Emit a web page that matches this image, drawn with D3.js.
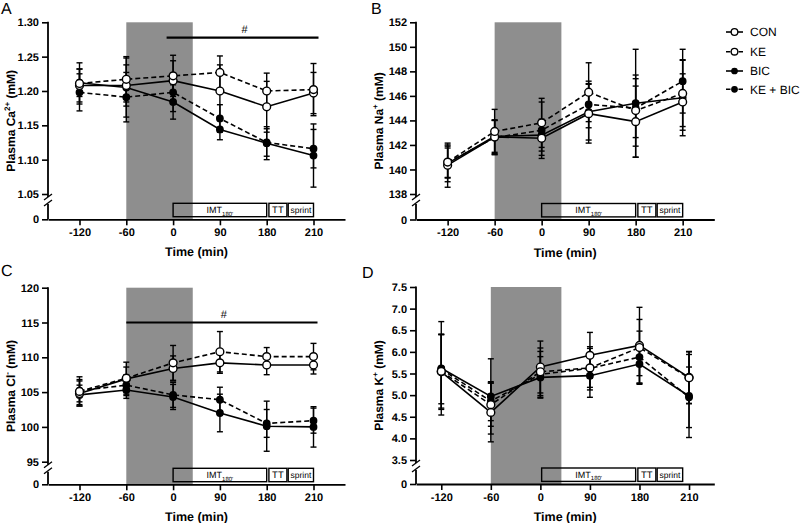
<!DOCTYPE html>
<html><head><meta charset="utf-8">
<script src="https://cdn.jsdelivr.net/npm/d3@7"></script>
<style>
html,body{margin:0;padding:0;background:#fff;}
svg{display:block;font-family:"Liberation Sans",Arial,sans-serif;}
text{text-rendering:geometricPrecision;}
</style></head>
<body>
<svg id="chart" width="800" height="523"></svg>
<script>
// ---------- data ----------
const timeLabels = ["-120","-60","0","90","180","210"];
const seriesNames = ["CON","KE","BIC","KE + BIC"];

const caCON   = [1.208,1.208,1.215,1.200,1.177,1.197];
const caCONsd = [0.024,0.030,0.029,0.038,0.037,0.030];
const caKE    = [1.211,1.217,1.222,1.227,1.200,1.202];
const caKEsd  = [0.030,0.033,0.030,0.024,0.026,0.038];
const caBIC   = [1.212,1.205,1.184,1.144,1.124,1.106];
const caBICsd = [0.020,0.043,0.025,0.015,0.024,0.046];
const caKEBIC   = [1.198,1.191,1.198,1.160,1.125,1.116];
const caKEBICsd = [0.027,0.036,0.028,0.020,0.020,0.028];

const naCON   = [140.35,142.65,142.55,144.55,143.9,145.5];
const naCONsd = [1.8,1.4,1.4,2.4,2.9,2.3];
const naKE    = [140.6,143.1,143.8,146.3,144.8,146.2];
const naKEsd  = [1.3,1.8,2.0,2.4,2.9,2.7];
const naBIC   = [140.5,142.7,142.8,144.7,145.4,145.85];
const naBICsd = [1.5,1.3,1.3,2.3,4.4,3.1];
const naKEBIC   = [140.55,142.6,143.2,145.3,145.0,147.2];
const naKEBICsd = [1.2,1.4,2.3,1.9,2.4,2.6];

const clCON   = [104.8,106.9,108.4,109.2,108.9,108.9];
const clCONsd = [1.8,1.7,1.8,1.5,1.4,1.3];
const clKE    = [105.1,107.0,109.2,110.8,110.1,110.1];
const clKEsd  = [2.1,2.3,2.5,2.9,1.3,1.9];
const clBIC   = [104.6,105.3,104.3,102.0,100.1,100.0];
const clBICsd = [1.4,1.2,1.8,2.7,3.6,2.9];
const clKEBIC   = [105.2,106.0,104.6,103.9,100.5,100.9];
const clKEBICsd = [1.6,1.5,1.8,1.8,2.0,1.8];

const kCON   = [5.54,4.60,5.65,5.92,6.15,5.41];
const kCONsd = [0.87,0.68,0.60,0.53,0.88,0.60];
const kKE    = [5.55,4.78,5.54,5.63,6.10,5.40];
const kKEsd  = [0.85,0.50,0.55,0.45,0.65,0.60];
const kBIC   = [5.62,4.97,5.41,5.45,5.72,4.98];
const kBICsd = [1.08,0.87,0.48,0.50,0.47,0.96];
const kKEBIC   = [5.60,4.86,5.48,5.62,5.88,4.95];
const kKEBICsd = [0.80,0.45,0.53,0.50,0.60,0.70];

const caTicks = [1.05,1.10,1.15,1.20,1.25,1.30];
const naTicks = [138,140,142,144,146,148,150,152];
const clTicks = [95,100,105,110,115,120];
const kTicks  = [3.5,4.0,4.5,5.0,5.5,6.0,6.5,7.0,7.5];

// ---------- styles ----------
const styles = [
  {fill:"#fff", dash:null, r:3.9},
  {fill:"#fff", dash:"5,3", r:3.9},
  {fill:"#000", dash:null, r:3.2},
  {fill:"#000", dash:"5,3", r:3.2}
];
const GRAY = "#8e8e8e";
const FONT = "Liberation Sans, Arial, sans-serif";

const panels = [
  {letter:"A", lx:1, ly:14, x0:48, x1:345, pad:0.673, yTop:22.3, yLow:194, yZero:219.3,
   ticks:caTicks, fmt:d3.format(".2f"), ion:"Ca", sup:"2+",
   series:[[caCON,caCONsd],[caKE,caKEsd],[caBIC,caBICsd],[caKEBIC,caKEBICsd]],
   hash:{v:1.2776, from:"0", fo:-6.5, to:"210", to2:5}},
  {letter:"B", lx:371, ly:14, x0:416, x1:714.3, pad:0.673, yTop:22.3, yLow:194, yZero:219.5,
   ticks:naTicks, fmt:d3.format("d"), ion:"Na", sup:"+",
   series:[[naCON,naCONsd],[naKE,naKEsd],[naBIC,naBICsd],[naKEBIC,naKEBICsd]]},
  {letter:"C", lx:1, ly:276, x0:48, x1:345, pad:0.673, yTop:287.7, yLow:461.7, yZero:484.3,
   ticks:clTicks, fmt:d3.format("d"), ion:"Cl", sup:"-",
   series:[[clCON,clCONsd],[clKE,clKEsd],[clBIC,clBICsd],[clKEBIC,clKEBICsd]],
   hash:{v:115, from:"-60", fo:0, to:"210", to2:4}},
  {letter:"D", lx:362, ly:278, x0:416, x1:714.3, pad:0.51, yTop:287, yLow:460, yZero:484,
   ticks:kTicks, fmt:d3.format(".1f"), ion:"K", sup:"+",
   series:[[kCON,kCONsd],[kKE,kKEsd],[kBIC,kBICsd],[kKEBIC,kKEBICsd]]}
];

const svg = d3.select("#chart");

panels.forEach(p => {
  const g = svg.append("g");
  const x = d3.scalePoint().domain(timeLabels).range([p.x0, p.x1]).padding(p.pad);
  const xRef = d3.scalePoint().domain(timeLabels).range([p.x0, p.x1]).padding(0.673); // overlay positions
  const y = d3.scaleLinear().domain([p.ticks[0], p.ticks[p.ticks.length-1]]).range([p.yLow, p.yTop]);
  const y0 = d3.scaleLinear().domain([0,1]).range([p.yZero, p.yZero-10]);

  // gray intervention band
  const gx0 = x("-60");
  const gx1 = xRef("0") + 0.42 * xRef.step();
  g.append("rect").attr("x", gx0).attr("y", p.yTop).attr("width", gx1-gx0).attr("height", p.yZero-p.yTop)
    .attr("fill", GRAY);

  // protocol boxes
  const bTop = p.yZero - 16, bH = 13.4;
  const xa = xRef("0"), xb = xRef("180"), xc = xRef("210");
  const boxes = [
    {x:xa, w:xb-xa, label:"IMT", sub:"180'", fs:9},
    {x:xb+2.2, w:18, label:"TT", fs:9.5},
    {x:xb+21.5, w:xc-(xb+21.5), label:"sprint", fs:8.5}
  ];
  boxes.forEach(b => {
    g.append("rect").attr("x", b.x).attr("y", bTop).attr("width", b.w).attr("height", bH)
      .attr("fill","none").attr("stroke","#000").attr("stroke-width",1.4);
    const t = g.append("text").attr("x", b.x + b.w/2).attr("y", bTop + bH - 3.6)
      .attr("text-anchor","middle").attr("font-size", b.fs).attr("fill","#000").text(b.label);
    if (b.sub) t.append("tspan").attr("font-size",6).attr("dy",2.5).text(b.sub);
  });

  // hash bar
  if (p.hash) {
    const hy = y(p.hash.v);
    const hx0 = x(p.hash.from) + p.hash.fo, hx1 = x(p.hash.to) + p.hash.to2;
    g.append("line").attr("x1",hx0).attr("x2",hx1).attr("y1",hy).attr("y2",hy)
      .attr("stroke","#000").attr("stroke-width",2.2);
    g.append("text").attr("x",(hx0+hx1)/2+2).attr("y",hy-5).attr("text-anchor","middle")
      .attr("font-size",11).text("#");
  }

  // axes
  const xAxis = d3.axisBottom(x).tickSize(6).tickSizeOuter(0).tickPadding(3);
  const xg = g.append("g").attr("transform",`translate(0,${p.yZero})`).call(xAxis);
  xg.select(".domain").attr("stroke-width",1.8);
  xg.selectAll(".tick line").attr("stroke-width",1.6);
  xg.selectAll(".tick text").attr("font-size",11).attr("font-weight","bold").attr("font-family",FONT);

  const yAxis = d3.axisLeft(y).tickValues(p.ticks).tickFormat(p.fmt).tickSize(6).tickSizeOuter(0).tickPadding(3);
  const yg = g.append("g").attr("transform",`translate(${p.x0},0)`).call(yAxis);
  yg.select(".domain").remove();
  const y0Axis = d3.axisLeft(y0).tickValues([0]).tickFormat(d3.format("d")).tickSize(6).tickSizeOuter(0).tickPadding(3);
  const yg0 = g.append("g").attr("transform",`translate(${p.x0},0)`).call(y0Axis);
  yg0.select(".domain").remove();
  [yg, yg0].forEach(a => {
    a.selectAll(".tick line").attr("stroke-width",1.6);
    a.selectAll(".tick text").attr("font-size",11).attr("font-weight","bold").attr("font-family",FONT);
  });
  // y spine with break
  g.append("line").attr("x1",p.x0).attr("x2",p.x0).attr("y1",p.yTop-0.5).attr("y2",p.yLow+3)
    .attr("stroke","#000").attr("stroke-width",1.8);
  g.append("line").attr("x1",p.x0).attr("x2",p.x0).attr("y1",p.yLow+10).attr("y2",p.yZero)
    .attr("stroke","#000").attr("stroke-width",1.8);
  [0,6].forEach(o => {
    g.append("line").attr("x1",p.x0-4).attr("x2",p.x0+4).attr("y1",p.yLow+6+o).attr("y2",p.yLow+0+o)
      .attr("stroke","#000").attr("stroke-width",1.3);
  });

  // axis titles
  g.append("text").attr("x",(p.x0+p.x1)/2).attr("y",p.yZero+37).attr("text-anchor","middle")
    .attr("font-size",12.5).attr("font-weight","bold").text("Time (min)");
  const yt = g.append("text").attr("transform",`translate(${p.x0-33},${(p.yTop+p.yZero)/2}) rotate(-90)`)
    .attr("text-anchor","middle").attr("font-size",12).attr("font-weight","bold");
  yt.append("tspan").text("Plasma " + p.ion);
  yt.append("tspan").attr("font-size",8).attr("dy",-5).text(p.sup);
  yt.append("tspan").attr("dy",5).text(" (mM)");

  // panel letter
  g.append("text").attr("x",p.lx).attr("y",p.ly).attr("font-size",16).text(p.letter);

  // series
  const line = d3.line().x(d => x(d.t)).y(d => y(d.v));
  const all = p.series.map((s,i) => s[0].map((v,j) => ({t:timeLabels[j], v:v, sd:s[1][j], i:i})));
  // error bars
  all.forEach(pts => {
    pts.forEach(d => {
      const cx = x(d.t), yt1 = y(d.v + d.sd), yb1 = y(d.v - d.sd);
      g.append("line").attr("x1",cx).attr("x2",cx).attr("y1",yt1).attr("y2",yb1).attr("stroke","#000").attr("stroke-width",1.4);
      [yt1,yb1].forEach(yy => g.append("line").attr("x1",cx-3).attr("x2",cx+3).attr("y1",yy).attr("y2",yy)
        .attr("stroke","#000").attr("stroke-width",1.4));
    });
  });
  all.forEach((pts,i) => {
    g.append("path").datum(pts).attr("d",line).attr("fill","none").attr("stroke","#000")
      .attr("stroke-width",1.6).attr("stroke-dasharray",styles[i].dash);
  });
  [2,3,0,1].forEach(i => {
    g.selectAll(null).data(all[i]).enter().append("circle")
      .attr("cx",d=>x(d.t)).attr("cy",d=>y(d.v)).attr("r",styles[i].r)
      .attr("fill",styles[i].fill).attr("stroke","#000").attr("stroke-width",1.4);
  });
});

// legend
const leg = svg.append("g");
const legY = [32, 51.7, 71, 89.3];
seriesNames.forEach((n,i) => {
  leg.append("line").attr("x1",726).attr("x2",743).attr("y1",legY[i]).attr("y2",legY[i])
    .attr("stroke","#000").attr("stroke-width",1.6).attr("stroke-dasharray", styles[i].dash ? "4.5,8" : null);
  leg.append("circle").attr("cx",734.5).attr("cy",legY[i]).attr("r",styles[i].r*0.85)
    .attr("fill",styles[i].fill).attr("stroke","#000").attr("stroke-width",1.3);
  leg.append("text").attr("x",750).attr("y",legY[i]+4.3).attr("font-size",12).text(n);
});
</script>
</body></html>
